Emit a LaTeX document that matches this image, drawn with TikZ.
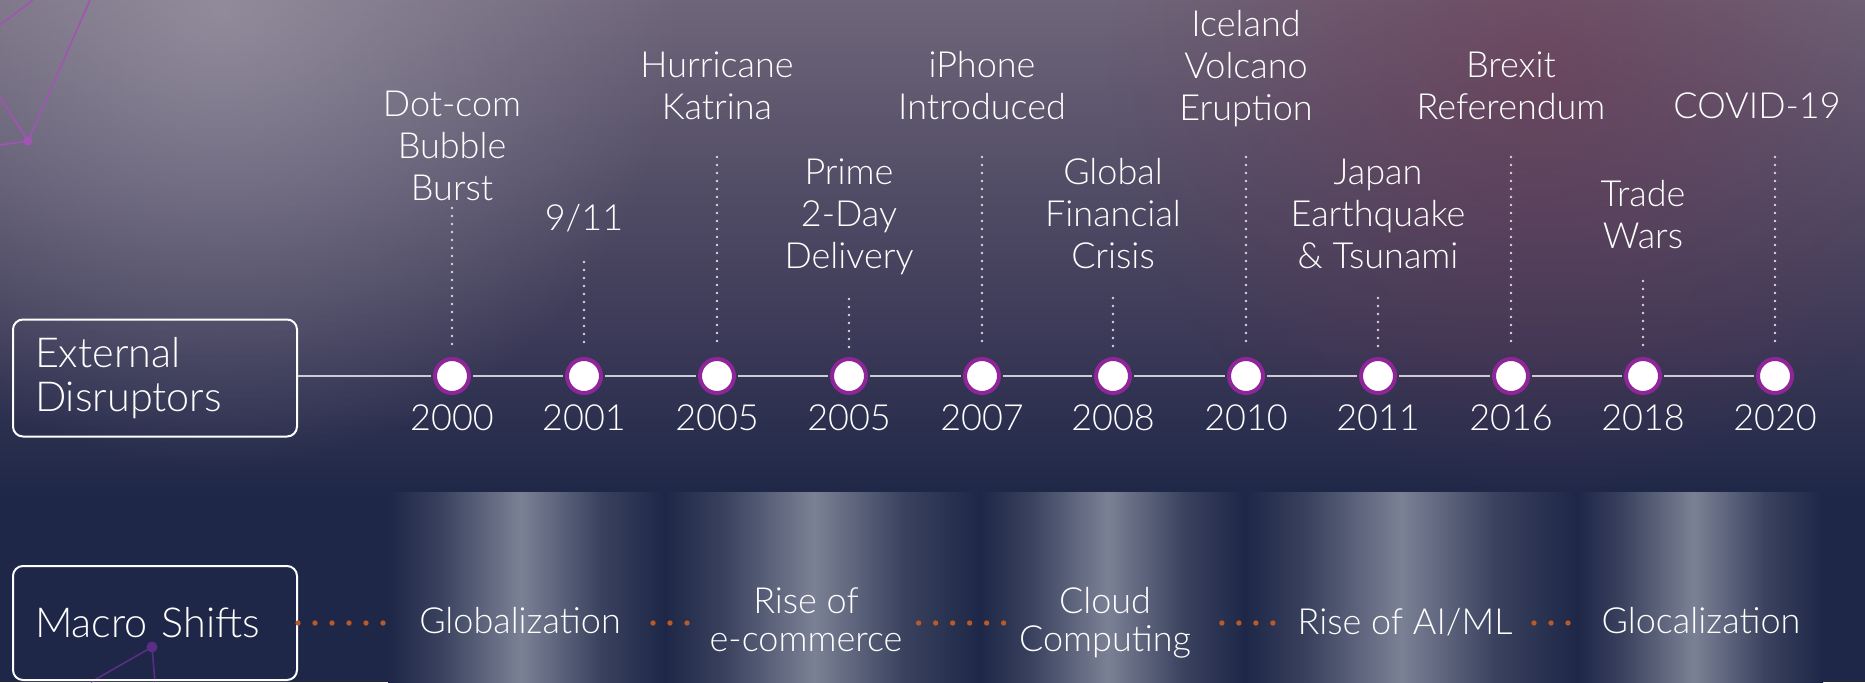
\documentclass[tikz,border=0pt]{standalone}
\usepackage{fontspec}
\setmainfont{Lato Light}
\usetikzlibrary{positioning, fadings, calc}

\definecolor{bgtop}{HTML}{6E6579}
\definecolor{bgmid}{HTML}{3B3957}
\definecolor{bgbot}{HTML}{1E2747}
\definecolor{glowgray}{HTML}{A9A5B3}
\definecolor{glowred}{HTML}{6E3550}
\definecolor{bandnavy}{HTML}{1E2747}
\definecolor{bandlight}{HTML}{7B8195}
\colorlet{bandhalf}{bandlight!30!bandnavy}
\definecolor{axisgray}{HTML}{CDCBD3}
\definecolor{tickgray}{HTML}{D8D6DE}
\definecolor{ringpurple}{HTML}{8E2598}
\definecolor{linkorange}{HTML}{B95A2B}
\definecolor{decopurple}{HTML}{A253B3}
\definecolor{decodark}{HTML}{5B2E86}

\tikzfading[name=glow, inner color=transparent!0, outer color=transparent!100]

\begin{document}
\begin{tikzpicture}[x=0.75pt, y=-0.75pt,
      frame/.style={draw=white, line width=1.5pt, rounded corners=7.5pt, minimum width=213pt,
        minimum height=87.75pt, text width=180pt, align=left, inner xsep=16.5pt,
        font=\fontsize{31}{33}\selectfont, text=white},
      axis/.style={draw=axisgray, line width=2pt},
      dot/.style={circle, draw=ringpurple, line width=3pt, fill=white, minimum size=25.5pt, inner sep=0pt},
      tick/.style={draw=tickgray, line width=2pt, line cap=round, dash pattern=on 0pt off 6pt},
      event/.style={align=center, font=\fontsize{27}{31.5}\selectfont, text=white, anchor=base, inner sep=0pt},
      yearlabel/.style={font=\fontsize{27}{30}\selectfont, text=white, anchor=base, inner sep=0pt},
      shiftlabel/.style={align=center, font=\fontsize{27}{28.5}\selectfont, text=white, anchor=base, inner sep=0pt},
      link/.style={draw=linkorange, line width=4pt, line cap=round, dash pattern=on 0pt off 12.75pt},
      deco/.style={draw=decopurple, line width=1.2pt}
    ]

    % Background
    \useasboundingbox (0,0) rectangle (1865,682);
    \shade[top color=bgtop, bottom color=bgmid] (0,0) rectangle (1865,341);
    \shade[top color=bgmid, bottom color=bgbot] (0,340) rectangle (1865,500);
    \fill[bgbot] (0,499) rectangle (1865,682);
    \fill[glowgray, path fading=glow, opacity=0.6] (220,10) circle (460);
    \fill[glowred, path fading=glow, opacity=0.55] (1540,70) circle (430);

    % Light bands behind the macro shifts
    \foreach \l/\c/\r in {388/515/665, 665/806/980, 980/1103/1245, 1245/1392/1577, 1577/1688/1823} {
      \pgfmathsetmacro{\la}{(\l+\c-20)/2}
      \pgfmathsetmacro{\ra}{(\c+20+\r)/2}
      \shade[left color=bandnavy, right color=bandhalf] (\l,492) rectangle (\la+1,682);
      \shade[left color=bandhalf, right color=bandhalf, middle color=bandlight] (\la,492) rectangle (\ra,682);
      \shade[left color=bandhalf, right color=bandnavy] (\ra-1,492) rectangle (\r,682);
    }

    % Decoration
    \draw[deco] (0,25) -- (33,0);
    \draw[deco] (90,0) -- (28,141) -- (0,145);
    \draw[deco] (0,97) -- (28,141);
    \fill[decopurple] (28,141) circle (4.5);
    \draw[draw=decodark, line width=1.2pt] (91,682) -- (152,647) -- (155,682);
    \fill[decodark] (152,647) circle (5.5);

    % Row labels
    \node[frame] (ext) at (155,378) {External\\Disruptors};
    \node[frame, minimum height=85.5pt] (macro) at (155,623) {Macro Shifts};

    % Events on the timeline
    \foreach \i/\x/\lx/\yr/\top/\base/\txt in {
        1/452/452/2000/208/200/{Dot-com\\Bubble\\Burst},
        2/584/584/2001/262/230/{9/11},
        3/717/717/2005/157/119/{Hurricane\\Katrina},
        4/849/849/2005/299/268/{Prime\\2-Day\\Delivery},
        5/982/982/2007/157/119/{iPhone\\Introduced},
        6/1113/1113/2008/298/268/{Global\\Financial\\Crisis},
        7/1246/1246/2010/157/120/{Iceland\\Volcano\\Eruption},
        8/1378/1378/2011/298/268/{Japan\\Earthquake\\\& Tsunami},
        9/1511/1511/2016/157/119/{Brexit\\Referendum},
        10/1643/1643/2018/281/248/{Trade\\Wars},
        11/1775/1757/2020/157/118/{COVID-19}} {
      \node[dot] (c\i) at (\x,376) {};
      \node[yearlabel] (y\i) at (\x,430) {\yr};
      \node[event] (e\i) at (\lx,\base) {\txt};
      \coordinate (t\i) at (\x,\top);
      \draw[tick, shorten >=7pt] (t\i) -- (c\i.north);
    }

    % Timeline
    \draw[axis, shorten >=1.5pt] (ext.east |- c1) -- (c1);
    \foreach \i [count=\j from 2] in {1,...,10}
      \draw[axis, shorten <=1.5pt, shorten >=1.5pt] (c\i) -- (c\j);

    % Macro shifts
    \node[shiftlabel] (glob) at (520,633) {Globalization};
    \node[shiftlabel] (rise) at (806,651) {Rise of\\e-commerce};
    \node[shiftlabel] (cloud) at (1105,651) {Cloud\\Computing};
    \node[shiftlabel] (aiml) at (1405,634) {Rise of AI/ML};
    \node[shiftlabel] (gloc) at (1701,633) {Glocalization};

    \draw[link, shorten >=16pt] (macro.east) -- (glob.west |- macro);
    \draw[link, shorten <=24pt, shorten >=8pt] (glob.east |- macro) -- (rise.west |- macro);
    \draw[link, shorten <=12pt, shorten >=11pt] (rise.east |- macro) -- (cloud.west |- macro);
    \draw[link, shorten <=23pt, shorten >=18pt] (cloud.east |- macro) -- (aiml.west |- macro);
    \draw[link, shorten <=16pt, shorten >=14pt] (aiml.east |- macro) -- (gloc.west |- macro);

  \end{tikzpicture}
\end{document}
